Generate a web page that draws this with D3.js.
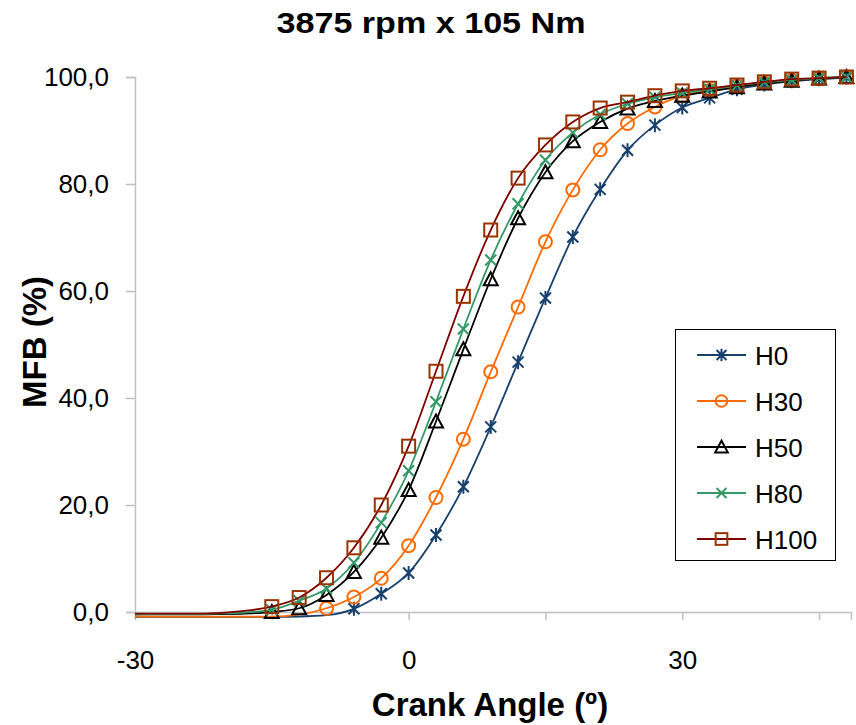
<!DOCTYPE html>
<html>
<head>
<meta charset="utf-8">
<script src="https://cdn.jsdelivr.net/npm/d3@7"></script>
<style>
  html, body { margin: 0; padding: 0; background: #ffffff; }
  svg { display: block; font-family: "Liberation Sans", Arial, sans-serif; }
</style>
</head>
<body>
<svg id="chart" width="856" height="725"></svg>
<script>
// ---- data ----
const angles = [-30, -27, -24, -21, -18, -15, -12, -9, -6, -3, 0, 3, 6, 9, 12, 15, 18, 21, 24, 27, 30, 33, 36, 39, 42, 45, 48];
const h0   = [-0.9, -0.9, -0.9, -0.9, -0.9, -0.9, -0.85, -0.6, 0.6, 3.4, 7.3, 14.4, 23.4, 34.6, 46.7, 58.7, 70.1, 79.0, 86.3, 91.0, 94.3, 96.1, 97.7, 98.6, 99.2, 99.6, 99.9];
const h30  = [-0.8, -0.85, -0.85, -0.85, -0.85, -0.85, -0.5, 0.7, 2.8, 6.3, 12.4, 21.4, 32.3, 44.9, 57.0, 69.2, 78.9, 86.4, 91.3, 94.4, 96.5, 97.5, 98.3, 98.9, 99.4, 99.7, 100.0];
const h50  = [-0.45, -0.45, -0.45, -0.4, -0.3, 0.0, 0.7, 3.2, 7.5, 13.9, 22.8, 35.6, 49.1, 62.2, 73.6, 82.2, 88.0, 91.6, 94.1, 95.5, 96.5, 97.3, 98.1, 98.8, 99.3, 99.7, 100.0];
const h80  = [-0.4, -0.4, -0.4, -0.3, -0.1, 0.4, 2.1, 4.4, 9.2, 16.7, 26.4, 39.3, 52.9, 65.8, 76.3, 84.5, 89.6, 93.0, 95.0, 96.2, 97.0, 97.7, 98.4, 99.0, 99.4, 99.8, 100.0];
const h100 = [-0.3, -0.3, -0.3, -0.2, 0.2, 1.0, 2.7, 6.4, 12.0, 20.0, 31.0, 45.0, 59.0, 71.4, 81.1, 87.3, 91.6, 94.2, 95.3, 96.5, 97.4, 97.9, 98.5, 99.1, 99.6, 99.8, 100.0];
const seriesNames = ["H0", "H30", "H50", "H80", "H100"];
const seriesValues = [h0, h30, h50, h80, h100];
const firstMarkedAngle = [-6, -9, -15, -15, -15];
const xTicks = [-30, -15, 0, 15, 30, 45];
const xTickLabels = ["-30", "", "0", "", "30", ""];
const yTicks = [0, 20, 40, 60, 80, 100];
const titleText = "3875 rpm x 105 Nm";
const xTitle = "Crank Angle (º)";
const yTitle = "MFB (%)";

// ---- styles ----
const lineColors   = ["#17406d", "#ff6a00", "#000000", "#339966", "#800000"];
const markerColors = ["#17406d", "#ff6a00", "#000000", "#339966", "#993300"];
const markerKinds  = ["star", "circle", "triangle", "x", "square"];

const svg = d3.select("#chart");
const x = d3.scaleLinear().domain([-30, 48.5]).range([135, 851]);
const y = d3.scaleLinear().domain([0, 100]).range([612, 77]);
const axisColor = "#bfbfbf";

// Title
svg.append("text").attr("x", 431).attr("y", 33).attr("text-anchor", "middle")
  .attr("font-size", 30).attr("font-weight", "bold")
  .attr("textLength", 309).attr("lengthAdjust", "spacingAndGlyphs")
  .text(titleText);

// Y axis
const yAxis = svg.append("g").attr("transform", "translate(135,0)")
  .call(d3.axisLeft(y).tickValues(yTicks).tickSize(9).tickPadding(17)
        .tickFormat(d => d3.format(".1f")(d).replace(".", ",")));
yAxis.select(".domain").attr("stroke", axisColor).attr("stroke-width", 1.5);
yAxis.selectAll(".tick line").attr("stroke", axisColor).attr("stroke-width", 1.5);
yAxis.selectAll(".tick text").attr("font-size", 26).attr("fill", "#000")
  .attr("font-family", "Liberation Sans, Arial, sans-serif");

// X axis
const xAxis = svg.append("g").attr("transform", "translate(0,612)")
  .call(d3.axisBottom(x).tickValues(xTicks).tickSize(8).tickPadding(31)
        .tickFormat((d, i) => xTickLabels[i]));
xAxis.select(".domain").attr("stroke", axisColor).attr("stroke-width", 1.5);
xAxis.selectAll(".tick line").attr("stroke", axisColor).attr("stroke-width", 1.5);
xAxis.selectAll(".tick text").attr("font-size", 26).attr("fill", "#000")
  .attr("font-family", "Liberation Sans, Arial, sans-serif");

// Axis titles
svg.append("text").attr("x", 490).attr("y", 716).attr("text-anchor", "middle")
  .attr("font-size", 33).attr("font-weight", "bold").text(xTitle);
svg.append("text").attr("transform", "translate(46,342) rotate(-90)")
  .attr("text-anchor", "middle").attr("font-size", 33).attr("font-weight", "bold").text(yTitle);

// Marker drawing
function drawMarker(g, kind, color, cx, cy, s) {
  const k = s || 1;
  if (kind === "star") {
    const p = `M${cx},${cy - 7 * k}L${cx},${cy + 7 * k}M${cx - 5.5 * k},${cy - 5.5 * k}L${cx + 5.5 * k},${cy + 5.5 * k}M${cx - 5.5 * k},${cy + 5.5 * k}L${cx + 5.5 * k},${cy - 5.5 * k}`;
    g.append("path").attr("d", p).attr("stroke", color).attr("stroke-width", 2).attr("fill", "none");
  } else if (kind === "circle") {
    g.append("circle").attr("cx", cx).attr("cy", cy).attr("r", 6.5 * k)
      .attr("stroke", color).attr("stroke-width", 2).attr("fill", "none");
  } else if (kind === "triangle") {
    const p = `M${cx},${cy - 7 * k}L${cx + 7 * k},${cy + 6 * k}L${cx - 7 * k},${cy + 6 * k}Z`;
    g.append("path").attr("d", p).attr("stroke", color).attr("stroke-width", 2).attr("fill", "none");
  } else if (kind === "x") {
    const p = `M${cx - 5.5 * k},${cy - 5.5 * k}L${cx + 5.5 * k},${cy + 5.5 * k}M${cx - 5.5 * k},${cy + 5.5 * k}L${cx + 5.5 * k},${cy - 5.5 * k}`;
    g.append("path").attr("d", p).attr("stroke", color).attr("stroke-width", 2).attr("fill", "none");
  } else if (kind === "square") {
    g.append("rect").attr("x", cx - 6.5 * k).attr("y", cy - 6.5 * k)
      .attr("width", 13 * k).attr("height", 13 * k)
      .attr("stroke", color).attr("stroke-width", 2).attr("fill", "none");
  }
}

// Series
const line = d3.line().x(d => x(d[0])).y(d => y(d[1])).curve(d3.curveMonotoneX);
seriesValues.forEach((vals, si) => {
  const pts = angles.map((a, i) => [a, vals[i]]);
  const g = svg.append("g");
  g.append("path").attr("d", line(pts)).attr("fill", "none")
    .attr("stroke", lineColors[si]).attr("stroke-width", 1.8);
  pts.filter(p => p[0] >= firstMarkedAngle[si]).forEach(p => {
    drawMarker(g, markerKinds[si], markerColors[si], x(p[0]), y(p[1]));
  });
});

// Legend
const lg = svg.append("g");
lg.append("rect").attr("x", 675.5).attr("y", 329.5).attr("width", 160).attr("height", 231)
  .attr("fill", "#fff").attr("stroke", "#000").attr("stroke-width", 1);
seriesNames.forEach((name, i) => {
  const cy = 355 + i * 46;
  lg.append("line").attr("x1", 697).attr("x2", 746).attr("y1", cy).attr("y2", cy)
    .attr("stroke", lineColors[i]).attr("stroke-width", 1.8);
  drawMarker(lg, markerKinds[i], markerColors[i], 721.5, cy, 0.9);
  lg.append("text").attr("x", 755).attr("y", cy + 9.5).attr("font-size", 26).text(name);
});
</script>
</body>
</html>
